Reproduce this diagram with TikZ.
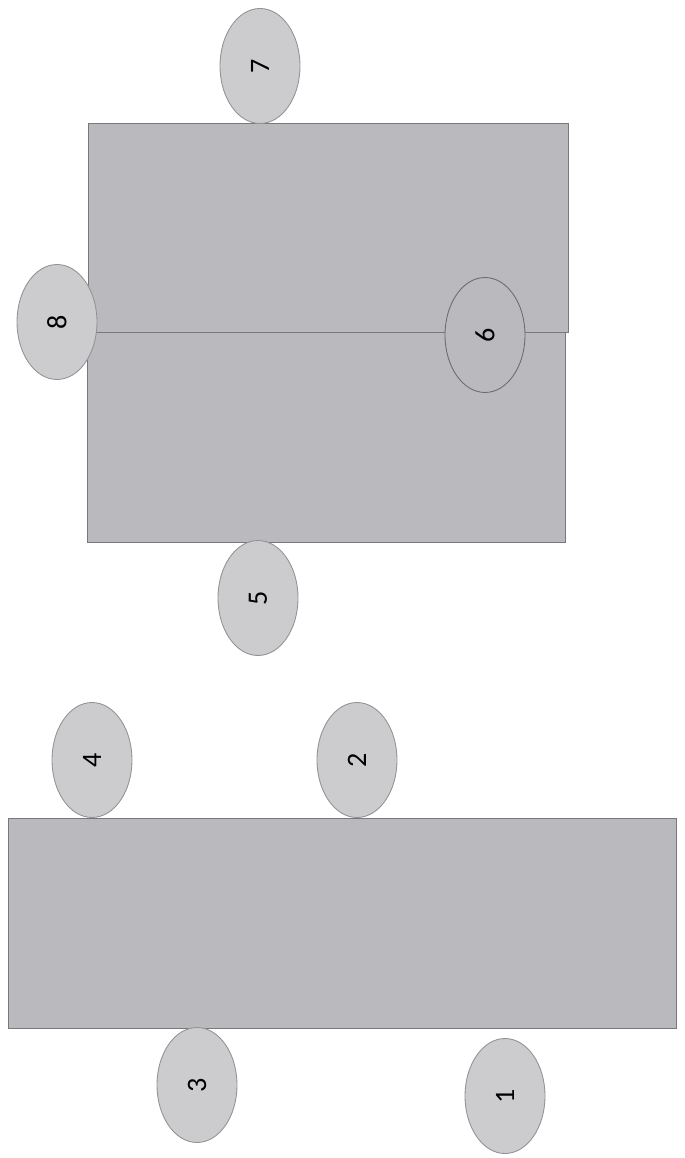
\documentclass[tikz,border=0pt]{standalone}
\usepackage{fontspec}
\setmainfont{Carlito}
\usetikzlibrary{shapes.geometric}
\definecolor{slabfill}{RGB}{186,186,190}
\definecolor{padfill}{RGB}{204,204,207}
\definecolor{edgegray}{RGB}{120,120,124}

\begin{document}
\begin{tikzpicture}[x=0.02cm, y=-0.02cm, font=\fontsize{16}{18}\selectfont]
		\tikzset{pad/.style={draw=edgegray!80, line width=0.5pt, fill=padfill, ellipse, rotate=90, minimum width=2.3cm, minimum height=1.6cm, inner sep=0pt},
			slab/.style={draw=edgegray, line width=0.5pt, fill=slabfill}}
		\useasboundingbox (0,0) rectangle (685,1158);
		% top piece
		\draw[slab] (88,123) rectangle (568,332);
		\draw[slab] (87,332) rectangle (565,542);
		\node[pad] (p7) at (260,66) {7};
		\node[pad] (p8) at (57,322) {8};
		\node[pad, fill=slabfill, draw=edgegray!90!black] (p6) at (485,335) {6};
		\node[pad] (p5) at (258,598) {5};
		% bottom piece
		\draw[slab] (8,818) rectangle (676,1028);
		\node[pad] (p4) at (92,760) {4};
		\node[pad] (p2) at (357,760) {2};
		\node[pad] (p3) at (197,1085) {3};
		\node[pad] (p1) at (505,1096) {1};
	\end{tikzpicture}
\end{document}
